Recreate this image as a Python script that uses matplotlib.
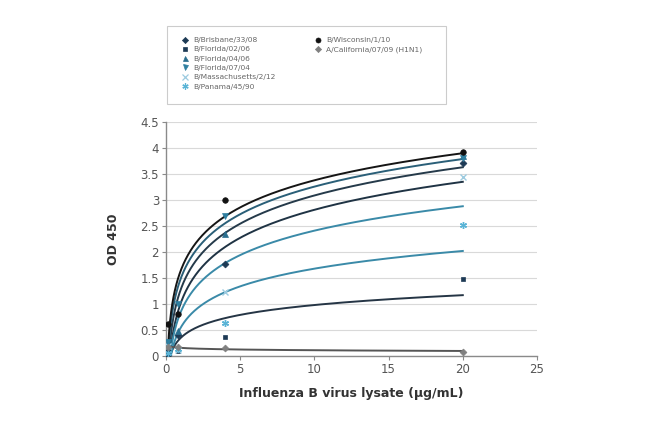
import numpy as np
import matplotlib
matplotlib.use("Agg")
import matplotlib.pyplot as plt
from matplotlib.lines import Line2D
from matplotlib.patches import Rectangle

# ---- data ----
conc = [0.16, 0.8, 4, 20]
series_names = ["B/Brisbane/33/08", "B/Florida/02/06", "B/Florida/04/06", "B/Florida/07/04",
                "B/Massachusetts/2/12", "B/Panama/45/90", "B/Wisconsin/1/10", "A/California/07/09 (H1N1)"]
brisbane = [0.01, 0.40, 1.77, 3.72]
florida02 = [0.10, 0.10, 0.36, 1.48]
florida04 = [0.27, 0.49, 2.35, 3.85]
florida07 = [0.26, 1.00, 2.70, 3.80]
massachusetts = [0.19, 0.11, 1.23, 3.45]
panama = [0.05, 0.14, 0.63, 2.52]
wisconsin = [0.62, 0.80, 3.00, 3.92]
california = [0.18, 0.17, 0.15, 0.08]
values = [brisbane, florida02, florida04, florida07, massachusetts, panama, wisconsin, california]

markers = ["D", "s", "^", "v", "x", (6, 2, 0), "o", "D"]
mcolors = ["#1d3a55", "#1d3a55", "#2a6e8e", "#2f7fa0", "#9ccbe0", "#5ab4d6", "#111111", "#808080"]
lcolors = ["#1f3344", "#253545", "#253a4a", "#2a5f78", "#3a8aa8", "#3a8aa8", "#151515", "#555555"]
msizes = [3.5, 3.5, 4, 4, 4.5, 5, 4, 3.5]

fig = plt.figure(figsize=(6.5, 4.23), dpi=100)
ax = fig.add_axes([166/650, 1-356/423, (537-166)/650, (356-122)/423])

x = np.array(conc, dtype=float)
xs = np.geomspace(x.min(), x.max(), 300)
for vals, mk, mc, lc, ms in zip(values, markers, mcolors, lcolors, msizes):
    y = np.array(vals)
    a, b = np.polyfit(np.log(x), y, 1)
    ax.plot(xs, a*np.log(xs) + b, color=lc, lw=1.4, zorder=2)
    ax.plot(x, y, linestyle="none", marker=mk, color=mc, markersize=ms,
            markeredgewidth=1.0 if mk in ("x", (6, 2, 0)) else 0.5, zorder=3)

ax.set_xlim(0, 25)
ax.set_ylim(0, 4.5)
ax.set_xticks([0, 5, 10, 15, 20, 25])
ax.set_yticks(np.arange(0, 4.51, 0.5))
ax.set_yticklabels(["0", "0.5", "1", "1.5", "2", "2.5", "3", "3.5", "4", "4.5"])
ax.grid(axis="y", color="#d9d9d9", lw=0.8)
ax.set_axisbelow(True)
for s in ["top", "right"]:
    ax.spines[s].set_visible(False)
for s in ["left", "bottom"]:
    ax.spines[s].set_color("#8a8a8a")
    ax.spines[s].set_linewidth(1.0)
ax.tick_params(axis="both", direction="out", length=3, width=0.8, color="#8a8a8a",
               labelsize=8.5, labelcolor="#555555", pad=2)
ax.set_xlabel("Influenza B virus lysate (\u03bcg/mL)", fontsize=9, fontweight="bold",
              color="#333333", labelpad=8)
ax.set_ylabel("OD 450", fontsize=9, fontweight="bold", color="#333333", labelpad=15)

# legend frame
fig.patches.append(Rectangle((167/650, 1-104/423), (446-167)/650, (104-26)/423,
                             transform=fig.transFigure, facecolor="white",
                             edgecolor="#cccccc", lw=0.8))

# legend (two columns, first column holds six entries)
handles = []
for mk, mc, ms in zip(markers, mcolors, msizes):
    handles.append(Line2D([], [], linestyle="none", marker=mk, color=mc, markersize=ms*0.9,
                          markeredgewidth=0.9 if mk in ("x", (6, 2, 0)) else 0.5))
blank = Line2D([], [], linestyle="none")
order_h = handles[:6] + handles[6:] + [blank]*4
order_l = series_names[:6] + series_names[6:] + [""]*4
leg = fig.legend(order_h, order_l, ncol=2, loc="upper left",
                 bbox_to_anchor=(181/650, 1-37/423),
                 fontsize=5.4, labelspacing=0.4, handlelength=1.0,
                 handletextpad=0.6, borderpad=0, borderaxespad=0, columnspacing=5.2,
                 frameon=False)
for t in leg.get_texts():
    t.set_color("#666666")

fig.savefig("out.png", dpi=100)
